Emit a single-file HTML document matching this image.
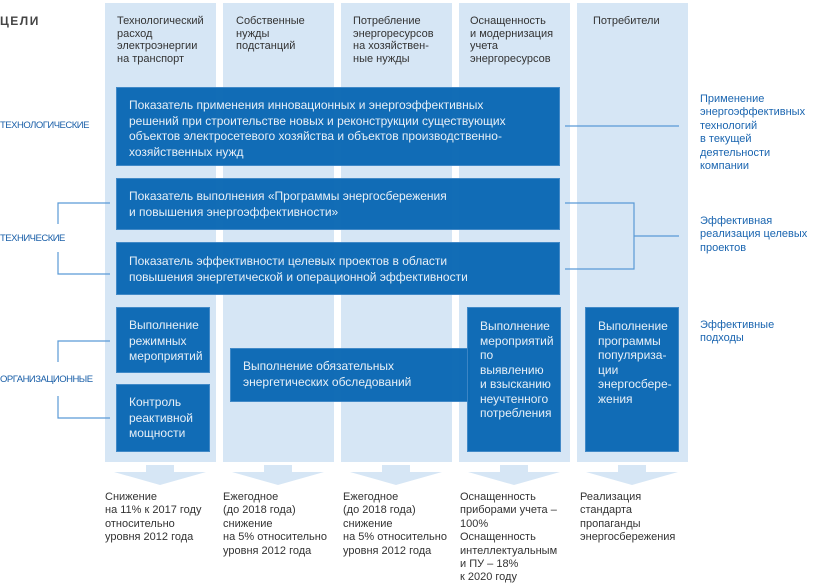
<!DOCTYPE html>
<html><head><meta charset="utf-8"><style>
body{margin:0;width:813px;height:588px;background:#fff;position:relative;overflow:hidden;font-family:"Liberation Sans",sans-serif;}
div{position:absolute;}
.col{background:#d6e6f5;top:3px;height:459px;width:111px;}
.h{font-size:11px;line-height:12.5px;color:#333;}
.b{background:#0b69b4;color:#e8f0f8;font-size:12px;line-height:15.6px;box-sizing:border-box;padding:10px 0 0 12px;opacity:.97;border:1px solid #3d86c6;white-space:nowrap;}
.lbl{font-size:9.5px;color:#1a5fa8;letter-spacing:-0.5px;}
.r{font-size:11px;line-height:13.4px;color:#1a65b0;}
.bt{font-size:11px;line-height:13.4px;color:#333;top:491px;}
</style></head><body>
<div style="left:0;top:14px;font-size:12px;font-weight:bold;color:#444;letter-spacing:1.5px">ЦЕЛИ</div>
<div class="col" style="left:105px"></div>
<div class="col" style="left:223px"></div>
<div class="col" style="left:341px"></div>
<div class="col" style="left:459px"></div>
<div class="col" style="left:577px"></div>
<div class="h" style="left:117px;top:15px">Технологический<br>расход<br>электроэнергии<br>на транспорт</div>
<div class="h" style="left:236px;top:15px">Собственные<br>нужды<br>подстанций</div>
<div class="h" style="left:353px;top:15px">Потребление<br>энергоресурсов<br>на хозяйствен-<br>ные нужды</div>
<div class="h" style="left:470px;top:15px">Оснащенность<br>и модернизация<br>учета<br>энергоресурсов</div>
<div class="h" style="left:593px;top:15px">Потребители</div>

<div class="lbl" style="left:0;top:120px">ТЕХНОЛОГИЧЕСКИЕ</div>
<div class="lbl" style="left:0;top:233px">ТЕХНИЧЕСКИЕ</div>
<div class="lbl" style="left:0;top:374px">ОРГАНИЗАЦИОННЫЕ</div>

<svg style="position:absolute;left:0;top:0" width="813" height="588">
<g fill="none" stroke="#5a9ad6" stroke-width="1.2">
<polyline points="110,203 58,203 58,224"/>
<polyline points="58,252 58,274 110,274"/>
<polyline points="110,341 58,341 58,362"/>
<polyline points="58,396 58,418 110,418"/>
<line x1="565" y1="126" x2="679" y2="126"/>
<polyline points="565,203 634,203 634,269 565,269"/>
<line x1="634" y1="236" x2="679" y2="236"/>
</g>
<g fill="#d6e6f5">
<polygon points="146,465 174,465 174,472 206,472 160,485 114,472 146,472"/>
<polygon points="264,465 292,465 292,472 324,472 278,485 232,472 264,472"/>
<polygon points="382,465 410,465 410,472 442,472 396,485 350,472 382,472"/>
<polygon points="500,465 528,465 528,472 560,472 514,485 468,472 500,472"/>
<polygon points="618,465 646,465 646,472 678,472 632,485 586,472 618,472"/>
</g>
</svg>

<div class="b" style="left:116px;top:87px;width:444px;height:79px">Показатель применения инновационных и энергоэффективных<br>решений при строительстве новых и реконструкции существующих<br>объектов электросетевого хозяйства и объектов производственно-<br>хозяйственных нужд</div>
<div class="b" style="left:116px;top:178px;width:444px;height:52px">Показатель выполнения «Программы энергосбережения<br>и повышения энергоэффективности»</div>
<div class="b" style="left:116px;top:242px;width:444px;height:53px;padding-top:11px">Показатель эффективности целевых проектов в области<br>повышения энергетической и операционной эффективности</div>
<div class="b" style="left:116px;top:307px;width:94px;height:66px;padding-top:10px">Выполнение<br>режимных<br>мероприятий</div>
<div class="b" style="left:116px;top:384px;width:94px;height:68px;padding-top:10px">Контроль<br>реактивной<br>мощности</div>
<div class="b" style="left:230px;top:348px;width:240px;height:54px;padding-top:10px">Выполнение обязательных<br>энергетических обследований</div>
<div class="b" style="left:467px;top:307px;width:94px;height:145px;padding-top:11px;line-height:14.5px">Выполнение<br>мероприятий<br>по<br>выявлению<br>и взысканию<br>неучтенного<br>потребления</div>
<div class="b" style="left:585px;top:307px;width:94px;height:145px;padding-top:11px;line-height:14.5px">Выполнение<br>программы<br>популяриза-<br>ции<br>энергосбере-<br>жения</div>

<div class="r" style="left:700px;top:93px">Применение<br>энергоэффективных<br>технологий<br>в текущей<br>деятельности<br>компании</div>
<div class="r" style="left:700px;top:215px">Эффективная<br>реализация целевых<br>проектов</div>
<div class="r" style="left:700px;top:319px">Эффективные<br>подходы</div>

<div class="bt" style="left:105px">Снижение<br>на 11% к 2017 году<br>относительно<br>уровня 2012 года</div>
<div class="bt" style="left:223px">Ежегодное<br>(до 2018 года)<br>снижение<br>на 5% относительно<br>уровня 2012 года</div>
<div class="bt" style="left:343px">Ежегодное<br>(до 2018 года)<br>снижение<br>на 5% относительно<br>уровня 2012 года</div>
<div class="bt" style="left:460px">Оснащенность<br>приборами учета –<br>100%<br>Оснащенность<br>интеллектуальным<br>и ПУ – 18%<br>к 2020 году</div>
<div class="bt" style="left:580px">Реализация<br>стандарта<br>пропаганды<br>энергосбережения</div>
</body></html>
